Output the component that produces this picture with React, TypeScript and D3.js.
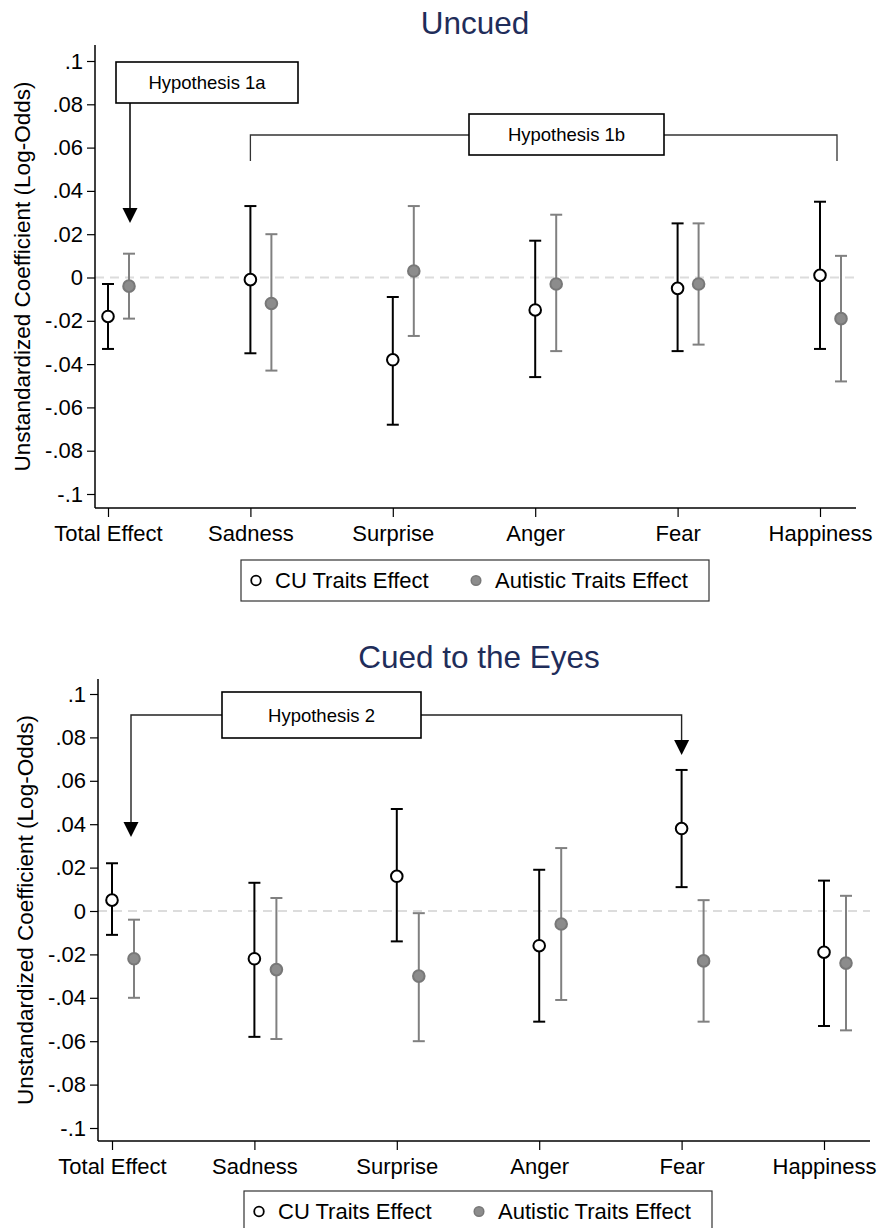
import React, { useEffect, useRef } from 'react';
import * as d3 from 'd3';

const categories = ['Total Effect', 'Sadness', 'Surprise', 'Anger', 'Fear', 'Happiness'];
const yTickValues = [0.1, 0.08, 0.06, 0.04, 0.02, 0, -0.02, -0.04, -0.06, -0.08, -0.1];
const yTickLabels = ['.1', '.08', '.06', '.04', '.02', '0', '-.02', '-.04', '-.06', '-.08', '-.1'];
const seriesNames = ['CU Traits Effect', 'Autistic Traits Effect'];

// Uncued
const uncuedCU = [-0.018, -0.001, -0.038, -0.015, -0.005, 0.001];
const uncuedCULow = [-0.033, -0.035, -0.068, -0.046, -0.034, -0.033];
const uncuedCUHigh = [-0.003, 0.033, -0.009, 0.017, 0.025, 0.035];
const uncuedAut = [-0.004, -0.012, 0.003, -0.003, -0.003, -0.019];
const uncuedAutLow = [-0.019, -0.043, -0.027, -0.034, -0.031, -0.048];
const uncuedAutHigh = [0.011, 0.02, 0.033, 0.029, 0.025, 0.01];

// Cued to the eyes
const cuedCU = [0.005, -0.022, 0.016, -0.016, 0.038, -0.019];
const cuedCULow = [-0.011, -0.058, -0.014, -0.051, 0.011, -0.053];
const cuedCUHigh = [0.022, 0.013, 0.047, 0.019, 0.065, 0.014];
const cuedAut = [-0.022, -0.027, -0.03, -0.006, -0.023, -0.024];
const cuedAutLow = [-0.04, -0.059, -0.06, -0.041, -0.051, -0.055];
const cuedAutHigh = [-0.004, 0.006, -0.001, 0.029, 0.005, 0.007];

const FONT = '"Liberation Sans", Arial, Helvetica, sans-serif';
const GREY = '#808080';

const App = () => {
  const svgRef = useRef();

  useEffect(() => {
    const svg = d3.select(svgRef.current);
    svg.selectAll('*').remove();

    const drawPanel = (p) => {
      const g = svg.append('g');
      const x = d3.scalePoint().domain(categories).range([p.xFirst, p.xLast]);
      const y = d3.scaleLinear().domain([-0.1, 0.1]).range([p.yBottom, p.yTop]);

      // title
      g.append('text')
        .attr('x', p.titleX).attr('y', p.titleY)
        .attr('text-anchor', 'middle')
        .style('font-family', FONT).style('font-size', '31.5px')
        .attr('fill', '#1f2d5a')
        .text(p.title);

      // zero line
      g.append('line')
        .attr('x1', p.axisLeft).attr('x2', p.axisRight)
        .attr('y1', y(0)).attr('y2', y(0))
        .attr('stroke', '#dcdcdc').attr('stroke-width', 2)
        .attr('stroke-dasharray', '9,6');

      // y axis
      const yAxis = g.append('g')
        .attr('transform', `translate(${p.axisLeft},0)`)
        .call(d3.axisLeft(y).tickValues(yTickValues).tickFormat((d, i) => yTickLabels[i]).tickSize(8).tickSizeOuter(0));
      yAxis.select('.domain').attr('d', `M0,${p.axisTop}V${p.axisBottom}`).attr('stroke', '#000').attr('stroke-width', 1.5);
      yAxis.selectAll('.tick line').attr('stroke', '#000').attr('stroke-width', 1.2);
      yAxis.selectAll('.tick text')
        .attr('x', -12)
        .style('font-family', FONT).style('font-size', '22px').attr('fill', '#000');

      // x axis
      const xAxis = g.append('g')
        .attr('transform', `translate(0,${p.axisBottom})`)
        .call(d3.axisBottom(x).tickSize(9).tickSizeOuter(0));
      xAxis.select('.domain').attr('d', `M${p.axisLeft},0H${p.axisRight}`).attr('stroke', '#000').attr('stroke-width', 1.5);
      xAxis.selectAll('.tick line').attr('stroke', '#000').attr('stroke-width', 1.2);
      xAxis.selectAll('.tick text')
        .attr('y', 17)
        .style('font-family', FONT).style('font-size', '22px').attr('fill', '#000');

      // y axis title
      g.append('text')
        .attr('transform', `translate(${p.yTitleX},${(p.axisTop + p.axisBottom) / 2}) rotate(-90)`)
        .attr('text-anchor', 'middle')
        .style('font-family', FONT).style('font-size', '22.5px')
        .text('Unstandardized Coefficient (Log-Odds)');

      // error bars
      const series = [
        { est: p.cu, lo: p.cuLow, hi: p.cuHigh, dx: 0, stroke: '#000', fill: '#fff', mstroke: '#000' },
        { est: p.aut, lo: p.autLow, hi: p.autHigh, dx: p.offset, stroke: GREY, fill: '#8c8c8c', mstroke: '#787878' },
      ];
      series.forEach((s) => {
        const data = categories.map((c, i) => ({ c, est: s.est[i], lo: s.lo[i], hi: s.hi[i] }));
        const eg = g.append('g');
        eg.selectAll('.bar').data(data).enter().append('line')
          .attr('x1', d => x(d.c) + s.dx).attr('x2', d => x(d.c) + s.dx)
          .attr('y1', d => y(d.lo)).attr('y2', d => y(d.hi))
          .attr('stroke', s.stroke).attr('stroke-width', 2);
        ['lo', 'hi'].forEach((k) => {
          eg.selectAll('.cap-' + k).data(data).enter().append('line')
            .attr('x1', d => x(d.c) + s.dx - 6).attr('x2', d => x(d.c) + s.dx + 6)
            .attr('y1', d => y(d[k])).attr('y2', d => y(d[k]))
            .attr('stroke', s.stroke).attr('stroke-width', 2);
        });
        eg.selectAll('circle').data(data).enter().append('circle')
          .attr('cx', d => x(d.c) + s.dx).attr('cy', d => y(d.est))
          .attr('r', 5.8)
          .attr('fill', s.fill).attr('stroke', s.mstroke).attr('stroke-width', 2);
      });

      // legend
      const lg = g.append('g').attr('transform', `translate(${p.legendX},${p.legendY})`);
      lg.append('rect').attr('width', 468).attr('height', 41)
        .attr('fill', '#fff').attr('stroke', '#333').attr('stroke-width', 1.2);
      lg.append('circle').attr('cx', 15).attr('cy', 20.5).attr('r', 4.8)
        .attr('fill', '#fff').attr('stroke', '#000').attr('stroke-width', 1.8);
      lg.append('text').attr('x', 34).attr('y', 28)
        .style('font-family', FONT).style('font-size', '22px').text(seriesNames[0]);
      lg.append('circle').attr('cx', 235).attr('cy', 20.5).attr('r', 4.8)
        .attr('fill', '#8c8c8c').attr('stroke', '#787878').attr('stroke-width', 1.5);
      lg.append('text').attr('x', 254).attr('y', 28)
        .style('font-family', FONT).style('font-size', '22px').text(seriesNames[1]);

      // annotations
      const ag = g.append('g');
      const box = (bx, by, bw, bh, label) => {
        ag.append('rect').attr('x', bx).attr('y', by).attr('width', bw).attr('height', bh)
          .attr('fill', '#fff').attr('stroke', '#000').attr('stroke-width', 1.6);
        ag.append('text').attr('x', bx + bw / 2).attr('y', by + bh / 2 + 6.5)
          .attr('text-anchor', 'middle')
          .style('font-family', FONT).style('font-size', '18.5px').text(label);
      };
      const head = (hx, tipY) => {
        ag.append('path')
          .attr('d', `M${hx - 7.5},${tipY - 15}L${hx + 7.5},${tipY - 15}L${hx},${tipY}Z`)
          .attr('fill', '#000');
      };
      p.annotate(ag, x, y, box, head);
    };

    // Uncued panel
    drawPanel({
      title: 'Uncued', titleX: 475, titleY: 34,
      xFirst: 108, xLast: 820, offset: 21,
      yTop: 61, yBottom: 494, axisTop: 45, axisBottom: 508,
      axisLeft: 95, axisRight: 856, yTitleX: 30,
      legendX: 241, legendY: 560,
      cu: uncuedCU, cuLow: uncuedCULow, cuHigh: uncuedCUHigh,
      aut: uncuedAut, autLow: uncuedAutLow, autHigh: uncuedAutHigh,
      annotate: (ag, x, y, box, head) => {
        const ax = x('Total Effect') + 22;
        ag.append('line').attr('x1', ax).attr('x2', ax).attr('y1', 103).attr('y2', 210)
          .attr('stroke', '#000').attr('stroke-width', 1.5);
        head(ax, 223);
        const l = x('Sadness'), r = x('Happiness') + 17;
        ag.append('path').attr('d', `M${l},161V135H${r}V161`)
          .attr('fill', 'none').attr('stroke', '#333').attr('stroke-width', 1.3);
        box(116, 62, 182, 41, 'Hypothesis 1a');
        box(469, 114, 195, 41, 'Hypothesis 1b');
      },
    });

    // Cued panel
    drawPanel({
      title: 'Cued to the Eyes', titleX: 479, titleY: 668,
      xFirst: 112, xLast: 824, offset: 22,
      yTop: 694, yBottom: 1128, axisTop: 679, axisBottom: 1141,
      axisLeft: 98, axisRight: 870, yTitleX: 33,
      legendX: 244, legendY: 1191,
      cu: cuedCU, cuLow: cuedCULow, cuHigh: cuedCUHigh,
      aut: cuedAut, autLow: cuedAutLow, autHigh: cuedAutHigh,
      annotate: (ag, x, y, box, head) => {
        const lx = x('Total Effect') + 19, rx = x('Fear');
        ag.append('path').attr('d', `M${lx},824V715H${rx}V742`)
          .attr('fill', 'none').attr('stroke', '#222').attr('stroke-width', 1.4);
        head(lx, 837);
        head(rx, 755);
        box(222, 692, 199, 46, 'Hypothesis 2');
      },
    });
  }, []);

  return (
    <div style={{ position: 'absolute', left: 0, top: 0, width: 878, height: 1228, background: '#fff' }}>
      <svg ref={svgRef} width={878} height={1228} style={{ display: 'block' }}></svg>
    </div>
  );
};

export default App;
